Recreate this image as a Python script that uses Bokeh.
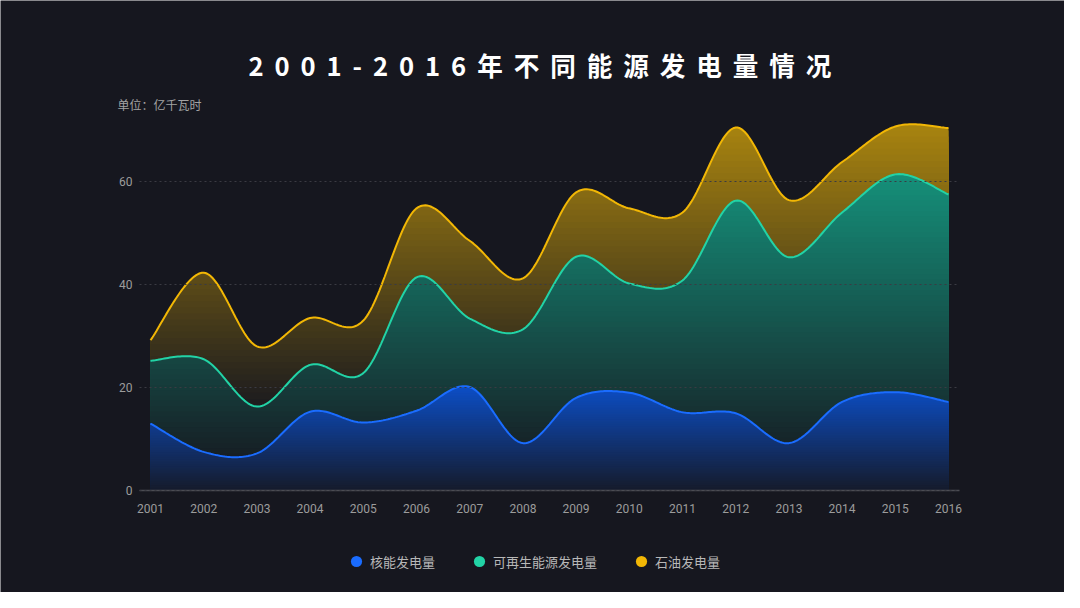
import numpy as np
from bokeh.plotting import figure
from bokeh.models import FixedTicker, Label, Legend, LegendItem, Range1d
from bokeh.embed import file_html
from bokeh.resources import INLINE

# ---------------- data ----------------
years = list(range(2001, 2017))
year_labels = [str(y) for y in years]
nuclear = [13.0, 7.5, 7.2, 15.3, 13.2, 15.5, 20.1, 9.2, 18.0, 19.0, 15.2, 15.0, 9.2, 17.2, 19.1, 17.2]
renewable = [25.2, 25.5, 16.3, 24.4, 22.8, 41.4, 33.4, 31.3, 45.4, 40.2, 40.8, 56.3, 45.3, 54.0, 61.4, 57.5]
oil = [29.2, 42.3, 28.0, 33.5, 33.0, 54.8, 48.5, 41.2, 57.9, 54.8, 54.0, 70.5, 56.4, 63.8, 70.7, 70.4]
series_names = ["核能发电量", "可再生能源发电量", "石油发电量"]
y_ticks = [0, 20, 40, 60]
title_text = "2001-2016年不同能源发电量情况"
unit_text = "单位：亿千瓦时"

# ---------------- style ----------------
BG = "#16171f"
LINE_COLORS = ["#1a6cff", "#22d3a6", "#f2b705"]
TOP_COLORS = ["#0c4ec6", "#15907a", "#a9840f"]
GRAD = [(0.0, 0.07), (0.05, 0.0), (0.2, 0.0)]  # (r0, f0) per series
CJK = "Noto Sans CJK SC"
X_LO, X_HI = 2001 - 0.207, 2016 + 0.207   # extent of the axis line / grid


def hex2rgb(h):
    h = h.lstrip("#")
    return np.array([int(h[i:i + 2], 16) for i in (0, 2, 4)], float)


def mix(top, f):
    c = hex2rgb(BG) + (hex2rgb(top) - hex2rgb(BG)) * f
    c = np.clip(np.round(c), 0, 255).astype(int)
    return "#%02x%02x%02x" % tuple(c)


def smooth(xs, ys, n=30):
    x = np.asarray(xs, float)
    y = np.asarray(ys, float)
    xp = np.concatenate([[x[0]], x, [x[-1]]])
    yp = np.concatenate([[y[0]], y, [y[-1]]])
    ox, oy = [], []
    m = len(x)
    for i in range(m - 1):
        p0 = np.array([xp[i], yp[i]])
        p1 = np.array([x[i], y[i]])
        p2 = np.array([x[i + 1], y[i + 1]])
        p3 = np.array([xp[i + 3], yp[i + 3]])
        c1 = p1 + (p2 - p0) / 6.0
        c2 = p2 - (p3 - p1) / 6.0
        t = np.linspace(0, 1, n, endpoint=(i == m - 2))[:, None]
        b = ((1 - t) ** 3) * p1 + 3 * ((1 - t) ** 2) * t * c1 + 3 * (1 - t) * t ** 2 * c2 + t ** 3 * p2
        ox.extend(b[:, 0])
        oy.extend(b[:, 1])
    return np.array(ox), np.array(oy)


W, H = 1064, 592
p = figure(width=W, height=H, output_backend="svg", toolbar_location=None,
           x_range=Range1d(1998.1805, 2018.1805), y_range=Range1d(-19.81, 95.17),
           min_border_left=0, min_border_right=0, min_border_top=0, min_border_bottom=0,
           background_fill_color=BG, border_fill_color=BG)
p.outline_line_color = None

data = [nuclear, renewable, oil]
curves = [smooth(years, s) for s in data]

# gradient areas: oil (back), renewable, nuclear (front)
for idx in [2, 1, 0]:
    xs, ys = curves[idx]
    ymax = ys.max()
    r0, f0 = GRAD[idx]
    nb = 60
    for k in range(nb, 0, -1):
        b = ymax * k / nb
        r = (k - 0.5) / nb
        f = f0 + (1 - f0) * float(np.clip((r - r0) / (1 - r0), 0, 1))
        p.varea(x=xs, y1=0, y2=np.minimum(ys, b), fill_color=mix(TOP_COLORS[idx], f), fill_alpha=1)

for idx in [2, 1, 0]:
    xs, ys = curves[idx]
    p.line(xs, ys, line_color=LINE_COLORS[idx], line_width=2)

# legend renderers (invisible markers)
legend_items = []
for idx in range(3):
    r = p.scatter(x=years, y=data[idx], size=0, marker="circle",
                  fill_color=LINE_COLORS[idx], line_color=None)
    legend_items.append(LegendItem(label=series_names[idx], renderers=[r]))

# grid (limited to the axis extent)
p.xgrid.grid_line_color = None
grid_ok = True
try:
    p.ygrid.cross_bounds = (X_LO, X_HI)
    p.ygrid.bounds = (0, 60)
except Exception:
    grid_ok = False
if grid_ok:
    p.ygrid.grid_line_color = "#3a3b43"
    p.ygrid.grid_line_dash = "2 3"
    p.ygrid.grid_line_width = 1
    p.ygrid.level = "guide"
else:
    p.ygrid.grid_line_color = None
    p.segment(x0=[X_LO] * 3, x1=[X_HI] * 3, y0=y_ticks[1:], y1=y_ticks[1:],
              line_color="#3a3b43", line_dash="2 3", line_width=1)

# y axis pinned at the left edge of the plotting area
p.yaxis.fixed_location = X_LO
p.yaxis.ticker = FixedTicker(ticks=y_ticks)
p.yaxis.axis_line_color = None
p.yaxis.major_tick_line_color = None
p.yaxis.minor_tick_line_color = None
p.yaxis.major_tick_out = 0
p.yaxis.major_tick_in = 0
p.yaxis.major_label_standoff = 7
p.yaxis.major_label_text_font = "Roboto"
p.yaxis.major_label_text_font_size = "12px"
p.yaxis.major_label_text_color = "#9c9c9c"

# x axis pinned at y = 0
p.xaxis.fixed_location = 0
p.xaxis.bounds = (X_LO, X_HI)
p.xaxis.ticker = FixedTicker(ticks=years)
p.xaxis.major_label_overrides = {y: s for y, s in zip(years, year_labels)}
p.xaxis.axis_line_color = "#4b4c53"
p.xaxis.axis_line_width = 1.5
p.xaxis.major_tick_line_color = None
p.xaxis.minor_tick_line_color = None
p.xaxis.major_tick_out = 0
p.xaxis.major_tick_in = 0
p.xaxis.major_label_standoff = 13
p.xaxis.major_label_text_font = "Roboto"
p.xaxis.major_label_text_font_size = "12px"
p.xaxis.major_label_text_color = "#9c9c9c"

legend = Legend(items=legend_items, location=(342, 17), orientation="horizontal",
                glyph_width=28, glyph_height=28, label_height=28, label_standoff=0,
                spacing=30, padding=0, margin=0,
                background_fill_alpha=0, border_line_alpha=0,
                label_text_font=CJK, label_text_font_size="13px", label_text_color="#b8b8b8")
p.add_layout(legend)

# title and unit label
spaced_title = " \u2009".join(list(title_text))
p.add_layout(Label(x=2002.842, y=82.74, text=spaced_title, text_align="left", text_baseline="middle",
                   text_font=CJK, text_font_style="bold", text_font_size="25.6px",
                   text_color="#ffffff"))
p.add_layout(Label(x=2000.38, y=74.97, text=unit_text, text_align="left", text_baseline="middle",
                   text_font=CJK, text_font_style="normal", text_font_size="12px",
                   text_color="#a3a3a3"))

html = file_html(p, INLINE)
html = html.replace("<body>", '<body style="background:%s">' % BG, 1)
open("out.html", "w").write(html)
